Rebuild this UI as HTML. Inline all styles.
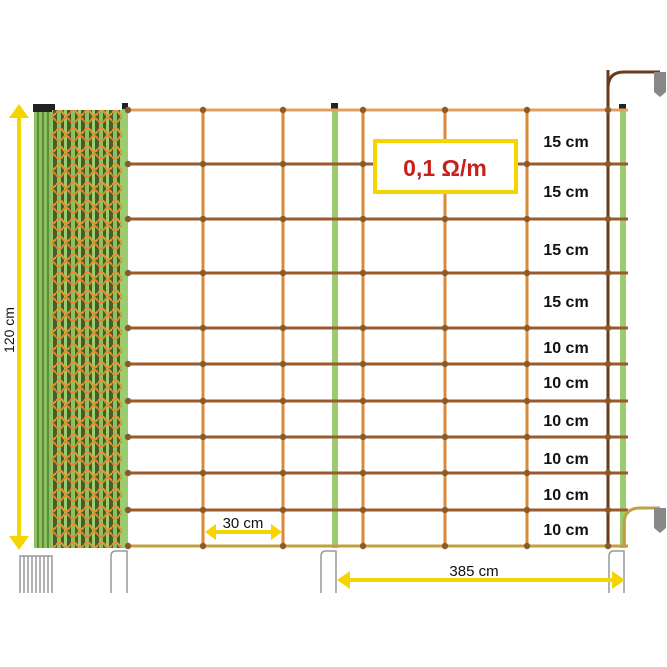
<!DOCTYPE html>
<html><head><style>body{margin:0;background:#fff}svg{display:block}</style></head><body>
<svg width="667" height="667" viewBox="0 0 667 667" xmlns="http://www.w3.org/2000/svg" font-family="Liberation Sans, sans-serif">
<defs>
<pattern id="mesh" width="14" height="18" patternUnits="userSpaceOnUse">
<rect width="14" height="18" fill="#4a5a2a"/>
<rect x="1" width="4" height="18" fill="#8cc060"/>
<rect x="8" width="3" height="18" fill="#9ccc70"/>
<path d="M0 5 Q4 0 7 5 T14 5" stroke="#e8922e" stroke-width="2.2" fill="none"/>
<path d="M0 13 Q4 17 7 12 T14 13" stroke="#e08a2a" stroke-width="2" fill="none"/>
</pattern>
</defs>
<rect x="34" y="108" width="20" height="440" fill="#8cc060"/>
<g stroke="#4f7a2a" stroke-width="1.5"><line x1="38" y1="108" x2="38" y2="548"/><line x1="43" y1="108" x2="43" y2="548"/><line x1="48" y1="108" x2="48" y2="548"/></g>
<rect x="33" y="104" width="22" height="8" fill="#222"/>
<rect x="52" y="110" width="76" height="438" fill="url(#mesh)"/>
<rect x="122" y="104" width="6" height="444" fill="#9ccc70"/>
<rect x="122" y="103" width="6" height="6" fill="#222"/>
<rect x="332" y="108" width="6" height="440" fill="#9ccc70"/>
<rect x="331" y="103" width="7" height="7" fill="#222"/>
<rect x="620" y="108" width="6" height="440" fill="#9ccc70"/>
<rect x="619" y="104" width="7" height="7" fill="#222"/>
<g stroke="#d98a3a" stroke-width="3">
<line x1="203" y1="108" x2="203" y2="548"/><line x1="283" y1="108" x2="283" y2="548"/>
<line x1="363" y1="108" x2="363" y2="548"/><line x1="445" y1="108" x2="445" y2="548"/>
<line x1="527" y1="108" x2="527" y2="548"/>
</g>
<line x1="608" y1="70" x2="608" y2="548" stroke="#6a3a1a" stroke-width="3"/>
<g stroke="#9a5a2a" stroke-width="3">
<line x1="128" y1="110" x2="628" y2="110" stroke="#e0a060"/>
<line x1="128" y1="164" x2="628" y2="164"/><line x1="128" y1="219" x2="628" y2="219"/>
<line x1="128" y1="273" x2="628" y2="273"/><line x1="128" y1="328" x2="628" y2="328"/>
<line x1="128" y1="364" x2="628" y2="364"/><line x1="128" y1="401" x2="628" y2="401"/>
<line x1="128" y1="437" x2="628" y2="437"/><line x1="128" y1="473" x2="628" y2="473"/>
<line x1="128" y1="510" x2="628" y2="510"/>
<line x1="128" y1="546" x2="628" y2="546" stroke="#c0a040"/>
</g>
<g fill="#8a5a2a" id="knots"></g>
<script>
var g=document.getElementById('knots'),xs=[128,203,283,363,445,527,608],ys=[110,164,219,273,328,364,401,437,473,510,546];
xs.forEach(function(x){ys.forEach(function(y){var c=document.createElementNS('http://www.w3.org/2000/svg','circle');c.setAttribute('cx',x);c.setAttribute('cy',y);c.setAttribute('r',3.2);g.appendChild(c);});});
</script>
<path d="M608 100 L608 88 Q608 72 624 72 L660 72" stroke="#6a3a1a" stroke-width="3" fill="none"/>
<path d="M654 72 L666 72 L666 92 L660 97 L654 92 Z" fill="#888"/>
<path d="M624 546 L624 524 Q624 508 640 508 L660 508" stroke="#c0a040" stroke-width="3" fill="none"/>
<path d="M654 508 L666 508 L666 528 L660 533 L654 528 Z" fill="#888"/>
<g stroke="#999" stroke-width="1.5" fill="none">
<path d="M20 593 V556 H52 V593"/><path d="M24 593V556M28 593V556M32 593V556M36 593V556M40 593V556M44 593V556M48 593V556"/>
<path d="M111 593 V556 Q111 551 116 551 H127 V593"/>
<path d="M321 593 V556 Q321 551 326 551 H336 V593"/>
<path d="M609 593 V556 Q609 551 614 551 H624 V593"/>
</g>
<g fill="#f5d400" stroke="#f5d400">
<line x1="19" y1="115" x2="19" y2="538" stroke-width="4"/>
<polygon points="9,118 29,118 19,104" stroke="none"/>
<polygon points="9,536 29,536 19,550" stroke="none"/>
<line x1="215" y1="532" x2="272" y2="532" stroke-width="4"/>
<polygon points="216,524 216,540 205,532" stroke="none"/>
<polygon points="271,524 271,540 282,532" stroke="none"/>
<line x1="348" y1="580" x2="614" y2="580" stroke-width="4"/>
<polygon points="350,571 350,589 337,580" stroke="none"/>
<polygon points="612,571 612,589 625,580" stroke="none"/>
</g>
<text transform="translate(14,330) rotate(-90)" text-anchor="middle" font-size="14" fill="#111">120 cm</text>
<text x="243" y="528" text-anchor="middle" font-size="15" fill="#111">30 cm</text>
<text x="474" y="576" text-anchor="middle" font-size="15" fill="#111">385 cm</text>
<rect x="375" y="141" width="141" height="51" fill="#fff" stroke="#f5d400" stroke-width="4"/>
<text x="445" y="176" text-anchor="middle" font-size="23" font-weight="bold" fill="#c8201e">0,1 Ω/m</text>
<g font-size="16" font-weight="bold" fill="#111" text-anchor="middle">
<text x="566" y="147">15 cm</text><text x="566" y="197">15 cm</text>
<text x="566" y="255">15 cm</text><text x="566" y="307">15 cm</text>
<text x="566" y="353">10 cm</text><text x="566" y="388">10 cm</text>
<text x="566" y="426">10 cm</text><text x="566" y="464">10 cm</text>
<text x="566" y="500">10 cm</text><text x="566" y="535">10 cm</text>
</g>
</svg>
</body></html>
